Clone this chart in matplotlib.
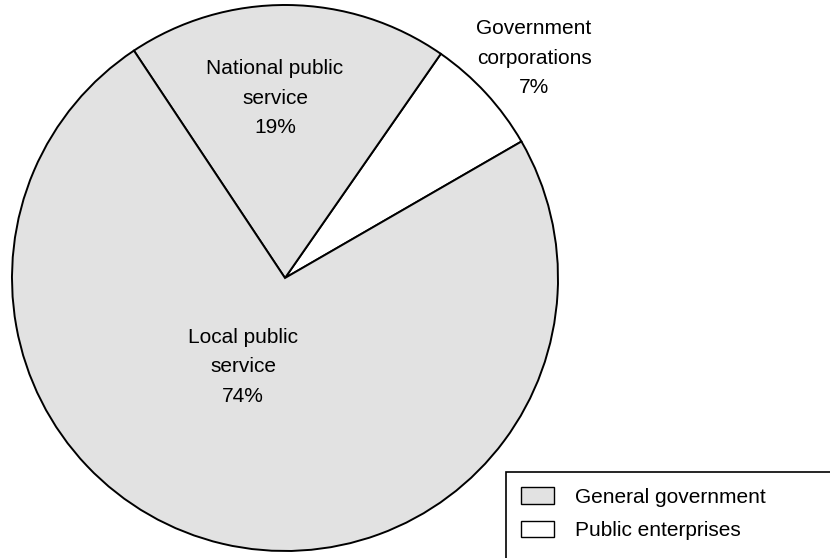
import matplotlib.pyplot as plt
from matplotlib.patches import Patch, Rectangle

plt.rcParams['font.family'] = ['Liberation Sans', 'DejaVu Sans']

# data
labels = ['Government\ncorporations', 'National public\nservice', 'Local public\nservice']
shares = [7, 19, 74]
groups = ['Public enterprises', 'General government', 'General government']
legend_labels = ['General government', 'Public enterprises']
group_colors = {'General government': '#e2e2e2', 'Public enterprises': 'white'}

fig = plt.figure(figsize=(8.3, 5.58), dpi=100)
ax = fig.add_axes([0, 0, 1, 1])

H = 558
cx, cy, r = 285, H - 278, 273
wedges, _ = ax.pie(shares, colors=[group_colors[g] for g in groups],
                   startangle=30, counterclock=True, center=(cx, cy), radius=r,
                   wedgeprops=dict(edgecolor='black', linewidth=1.4))
ax.set_xlim(0, 830)
ax.set_ylim(0, H)
ax.set_aspect('equal')
ax.axis('off')

# label positions (pixel coords, y from top)
label_pos = [(534, 58), (275, 98), (243, 367)]
for lab, s, (x, y) in zip(labels, shares, label_pos):
    ax.text(x, H - y, f'{lab}\n{s}%', ha='center', va='center',
            fontsize=15, linespacing=1.7)

# legend box
ax.add_patch(Rectangle((506, -10), 340, H - 472 + 10, facecolor='white', edgecolor='black',
                       linewidth=1.2, clip_on=False))
handles = [Patch(facecolor=group_colors[g], edgecolor='black', linewidth=1) for g in legend_labels]
ax.legend(handles, legend_labels, loc='upper left', bbox_to_anchor=(521, H - 487),
          bbox_transform=ax.transData,
          frameon=False, fontsize=15, handlelength=1.6, handleheight=0.85,
          handletextpad=1.0, labelspacing=0.68, borderpad=0, borderaxespad=0)

fig.savefig('out.png', dpi=100)
